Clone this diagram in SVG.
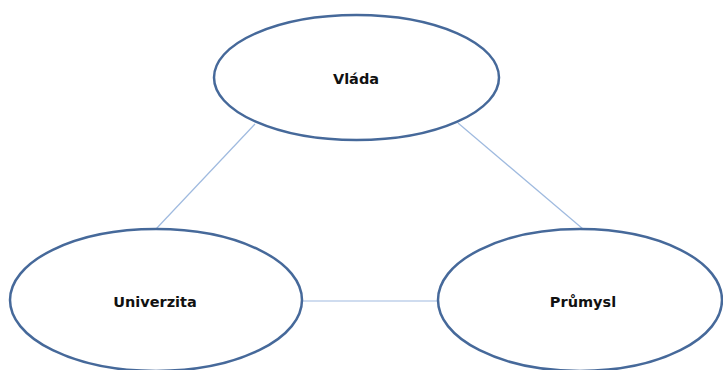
<svg xmlns="http://www.w3.org/2000/svg" width="723" height="370" viewBox="0 0 723 370">
  <style>
    .node ellipse { fill: #ffffff; stroke: #46699a; stroke-width: 2.5; }
    .node text { font-family: "DejaVu Sans", Verdana, sans-serif; font-weight: bold; font-size: 14.5px; fill: #111111; text-anchor: middle; }
    .links line { stroke: #9fbadf; stroke-width: 1.2; }
  </style>
  <rect width="723" height="370" fill="#ffffff"/>
  <g class="links">
    <line x1="255" y1="124" x2="156" y2="229"/>
    <line x1="458" y1="123" x2="583" y2="229"/>
    <line x1="302" y1="301" x2="438" y2="301"/>
  </g>
  <g id="vlada" class="node">
    <ellipse cx="356.5" cy="77.5" rx="142.5" ry="62.5"/>
    <text x="356" y="84">Vláda</text>
  </g>
  <g id="univerzita" class="node">
    <ellipse cx="156" cy="300" rx="146" ry="71"/>
    <text x="155" y="307">Univerzita</text>
  </g>
  <g id="prumysl" class="node">
    <ellipse cx="580" cy="300" rx="142" ry="71"/>
    <text x="583" y="307">Průmysl</text>
  </g>
</svg>
